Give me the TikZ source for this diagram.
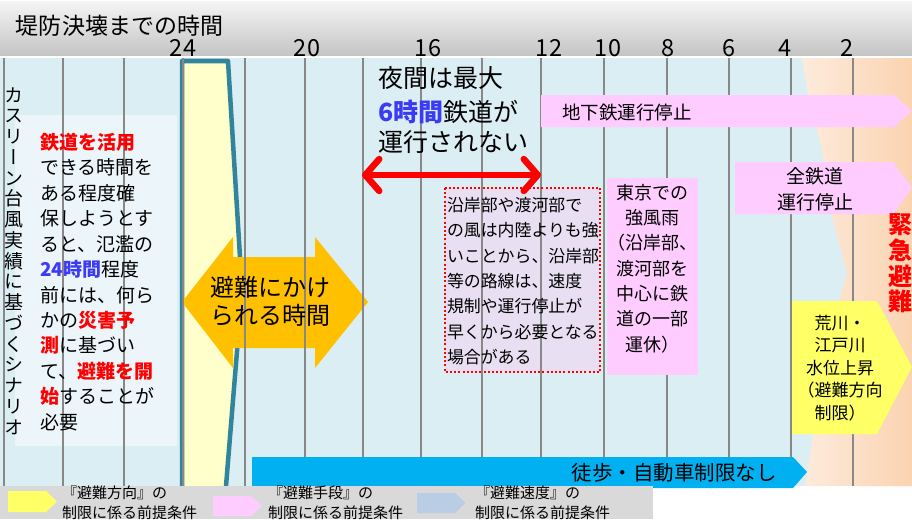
\documentclass[tikz,border=0pt]{standalone}
\usepackage{fontspec}
\setmainfont{Noto Sans CJK JP}
\newfontfamily\jpv[RawFeature=+vert]{Noto Sans CJK JP}
\usetikzlibrary{arrows.meta}
\definecolor{hdtop}{HTML}{F4F4F4}
\definecolor{hdbot}{HTML}{C4C4C4}
\definecolor{bgblue}{HTML}{DBEEF4}
\definecolor{boxlight}{HTML}{ECF6FA}
\definecolor{lav}{HTML}{E8E0F2}
\definecolor{peachL}{HTML}{FDEBDD}
\definecolor{peachR}{HTML}{FBD3B0}
\definecolor{gridgray}{HTML}{888888}
\definecolor{tealc}{HTML}{31849B}
\definecolor{lyellow}{HTML}{FFFFCC}
\definecolor{orangec}{HTML}{FFC000}
\definecolor{pinkc}{HTML}{FFCCFF}
\definecolor{yellowc}{HTML}{FFFF66}
\definecolor{skyc}{HTML}{00B0F0}
\definecolor{lbluec}{HTML}{B9CDE5}
\definecolor{legendgray}{HTML}{D9D9D9}
\definecolor{txtblue}{HTML}{3B3BF5}
\newcommand\myfs[2]{\fontsize{#1}{#2}\selectfont}
\tikzset{
  txt/.style={inner sep=0pt, outer sep=0pt},
  gridline/.style={gridgray, line width=1.8pt},
  axislabel/.style={txt, font=\myfs{23.5}{26}},
}
\begin{document}
\begin{tikzpicture}[x=1pt,y=-1pt]
\clip (0,0) rectangle (912,519);
\fill[white] (0,0) rectangle (912,519);
% header
\shade[top color=hdtop, bottom color=hdbot] (0,2) rectangle (912,56);
\node[txt, anchor=west, font=\myfs{23}{28}] (title) at (16,26) {堤防決壊までの時間};
% chart background
\fill[bgblue] (0,58) rectangle (912,486);
\shade[left color=peachL, right color=peachR] (802,58) -- (912,58) -- (912,486) -- (805,486) -- (812,440) -- (833,323) -- (847,273) -- (832,217) -- (822,150) -- (808,95) -- cycle;
% translucent boxes
\fill[boxlight] (15,115) rectangle (177,446);
\fill[lav] (445,188) rectangle (600,372);
% yellow trapezoid
\fill[lyellow] (182,486) -- (182,61) -- (228,61) -- (242,290) -- (226,486) -- cycle;
\draw[tealc, line width=4.5pt, line join=round] (182,486) -- (182,61) -- (228,61) -- (242,290) -- (226,486);
% orange double arrow
\fill[orangec] (182,302) -- (233,237) -- (233,257) -- (315,257) -- (315,237) -- (368,302) -- (315,368) -- (315,348) -- (233,348) -- (233,368) -- cycle;
% grid lines
\foreach \gx in {4,63,124,183,245,305,363,421,482,541,604,667,729,791,853}
  \draw[gridline] (\gx,58) -- (\gx,486);
\draw[white, line width=1.5pt] (0,57.2) -- (912,57.2);
% axis labels
\node[axislabel] (t24) at (183,48) {24};
\node[axislabel] (t20) at (307,48) {20};
\node[axislabel] (t16) at (428,48) {16};
\node[axislabel] (t12) at (549,48) {12};
\node[axislabel] (t10) at (608,48) {10};
\node[axislabel] (t8) at (668,48) {8};
\node[axislabel] (t6) at (729,48) {6};
\node[axislabel] (t4) at (785,48) {4};
\node[axislabel] (t2) at (847,48) {2};
% dotted border
\draw[red, line width=2.2pt, dash pattern=on 2pt off 2.2pt] (445,188) rectangle (600,372);
% opaque shapes
\fill[pinkc] (541,95) -- (894,95) -- (912,111) -- (894,127) -- (541,127) -- cycle;
\fill[pinkc] (735,162) -- (893,162) -- (912,188) -- (893,214) -- (735,214) -- cycle;
\fill[pinkc] (607,178) rectangle (698,375);
\fill[yellowc] (792,301) -- (877,301) -- (912,367) -- (877,434) -- (792,434) -- cycle;
\fill[skyc] (252,457) -- (793,457) -- (807,472) -- (793,488) -- (252,488) -- cycle;
% vertical scenario text
\node[txt, align=center, font=\jpv\myfs{19}{20.75}] (vert) at (14,261) {カ\\ス\\リ\\ー\\ン\\台\\風\\実\\績\\に\\基\\づ\\く\\シ\\ナ\\リ\\オ};
% left box text
\node[txt, anchor=west, align=left, font=\myfs{19}{25.45}] (lefttext) at (40,282) {\textcolor{red}{\bfseries 鉄道を活用}\\できる時間を\\ある程度確\\保しようとす\\ると、氾濫の\\\textcolor{txtblue}{\bfseries 24時間}程度\\前には、何ら\\かの\textcolor{red}{\bfseries 災害予}\\\textcolor{red}{\bfseries 測}に基づい\\て、\textcolor{red}{\bfseries 避難を開}\\\textcolor{red}{\bfseries 始}することが\\必要};
% orange arrow text
\node[txt, align=center, font=\myfs{24}{28}] (evactime) at (270,301) {避難にかけ\\られる時間};
% night text
\node[txt, anchor=west, font=\myfs{25}{30}] (night1) at (378,78) {夜間は最大};
\node[txt, anchor=west, font=\myfs{25}{30}] (night2) at (378,112) {\textcolor{txtblue}{\bfseries 6時間}鉄道が};
\node[txt, anchor=west, font=\myfs{25}{30}] (night3) at (378,142) {運行されない};
% red double arrow
\coordinate (nl) at (362,175);
\coordinate (nr) at (541,175);
\draw[red, line width=6.5pt, {Straight Barb[length=14pt,width=32pt,round]}-{Straight Barb[length=14pt,width=32pt,round]}] (nl) -- (nr);
% dotted box text
\node[txt, anchor=west, align=left, font=\myfs{16.9}{25.3}] (coast) at (447,281) {沿岸部や渡河部で\\の風は内陸よりも強\\いことから、沿岸部\\等の路線は、速度\\規制や運行停止が\\早くから必要となる\\場合がある};
% subway
\node[txt, anchor=west, font=\myfs{18.5}{22}] (subway) at (562,112) {地下鉄運行停止};
% Tokyo box
\node[txt, align=center, font=\myfs{18}{25.3}] (tokyo) at (652.5,268.5) {東京での\\強風雨\\（沿岸部、\\渡河部を\\中心に鉄\\道の一部\\運休）};
% all railways
\node[txt, align=center, font=\myfs{19}{26}] (allrail) at (815,189.5) {全鉄道\\運行停止};
% emergency
\node[txt, align=center, font=\bfseries\myfs{24}{25.7}, text=red] (kinkyu) at (900,263.5) {緊\\急\\避\\難};
% river
\node[txt, align=center, font=\myfs{17}{22.6}] (river) at (840,368) {荒川・\\江戸川\\水位上昇\\（避難方向\\制限）};
% walking
\node[txt, font=\myfs{20.5}{24}] (walk) at (674,473) {徒歩・自動車制限なし};
% legend
\fill[legendgray] (0,486) rectangle (653,519);
\fill[yellowc] (8,491) -- (46,491) -- (57,501.5) -- (46,512) -- (8,512) -- cycle;
\fill[pinkc] (213,496) -- (251,496) -- (262,506) -- (251,516) -- (213,516) -- cycle;
\fill[lbluec] (417,493) -- (455,493) -- (465,503) -- (455,513) -- (417,513) -- cycle;
\node[txt, anchor=west, align=left, font=\myfs{15}{20}] (leg1) at (62,503) {『避難方向』の\\制限に係る前提条件};
\node[txt, anchor=west, align=left, font=\myfs{15}{20}] (leg2) at (268,503) {『避難手段』の\\制限に係る前提条件};
\node[txt, anchor=west, align=left, font=\myfs{15}{20}] (leg3) at (475,503) {『避難速度』の\\制限に係る前提条件};
\end{tikzpicture}
\end{document}
